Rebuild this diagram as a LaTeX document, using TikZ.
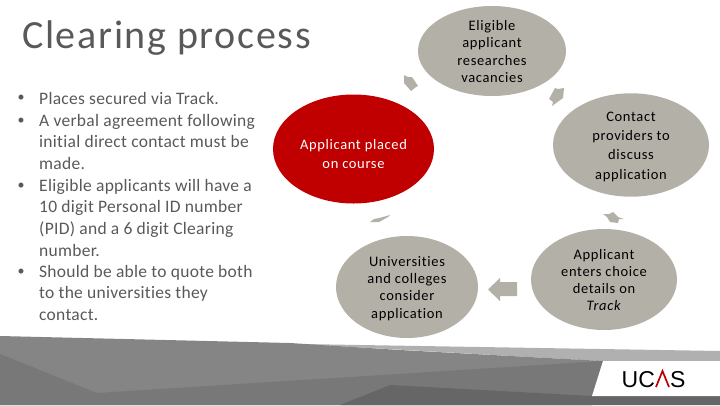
\documentclass[tikz,border=0pt]{standalone}
\usepackage{fontspec}
\setmainfont{Carlito}
\newfontfamily\titlefont[LetterSpace=4.2]{Carlito}
\newfontfamily\listfont[LetterSpace=1.6,Ligatures=NoCommon]{Carlito}
\newfontfamily\bubblefont[LetterSpace=4.5,Ligatures=NoCommon]{Carlito}
\newfontfamily\logofont{Liberation Sans}
\newcommand{\pushdown}[1]{\rule{0pt}{#1pt}}
\usetikzlibrary{shapes.geometric}
\definecolor{ucasgrey}{HTML}{B2B0A7}
\definecolor{ucasred}{HTML}{C00000}
\definecolor{bodygrey}{HTML}{595959}
\tikzset{
    bubble/.style={ellipse,fill=ucasgrey,inner sep=0pt,outer sep=0pt,align=center,text=black},
    listitem/.style={anchor=north west,inner sep=0pt,align=left,text=bodygrey,
        font=\listfont\fontsize{17.5}{21.6}\selectfont},
    listdot/.style={anchor=north west,inner sep=0pt,text=bodygrey,
        font=\fontsize{14}{21.6}\selectfont},
    ringarrow/.style={fill=ucasgrey,draw=none},
}
\begin{document}
\begin{tikzpicture}[x=1pt,y=-1pt]
    \useasboundingbox (0,0) rectangle (720,405);

    % Footer
    \fill[gray!62] (300,344) -- (720,351) -- (720,361) -- (600,361) -- cycle;
    \fill[black!48] (0,336) -- (290,343) -- (400,350) -- (603,361) -- (592,405) -- (0,405) -- cycle;
    \fill[black!53] (0,354) -- (97,393) -- (603,361) -- (592,405) -- (0,405) -- cycle;
    \fill[black!60] (340,405) -- (390,385) -- (592,396) -- (720,396) -- (720,405) -- cycle;
    \fill[white] (603,361) -- (720,361) -- (720,396) -- (592,396) -- cycle;

    % Logo
    \node[anchor=base west,inner sep=0pt,font=\logofont\fontsize{23}{23}\selectfont] (uc) at (621.5,387) {UC};
    \node[anchor=base west,inner sep=0pt,font=\logofont\fontsize{23}{23}\selectfont] (s) at (670,387) {S};
    \draw[ucasred,line width=1.7pt] (656,387) -- (662.5,371) -- (669,387);

    % Title and list
    \node[anchor=base west,inner sep=0pt,text=bodygrey,font=\titlefont\fontsize{40}{40}\selectfont] (title) at (22,48) {Clearing process};

    \node[listdot] (d1) at (17.5,95) {•};
    \node[listitem] (t1) at (39,92) {Places secured via Track.};
    \node[listdot] (d2) at (17.5,118) {•};
    \node[listitem] (t2) at (39,114) {A verbal agreement following\\initial direct contact must be\\made.};
    \node[listdot] (d3) at (17.5,183) {•};
    \node[listitem] (t3) at (39,179) {Eligible applicants will have a\\10 digit Personal ID number\\(PID) and a 6 digit Clearing\\number.};
    \node[listdot] (d4) at (17.5,269) {•};
    \node[listitem] (t4) at (39,265) {Should be able to quote both\\to the universities they\\contact.};

    % Ring
    \node[bubble,minimum width=148pt,minimum height=90pt,font=\bubblefont\fontsize{14.5}{17.4}\selectfont] (research) at (492,51) {\pushdown{11}Eligible\\applicant\\researches\\vacancies};
    \node[bubble,minimum width=156pt,minimum height=102pt,font=\bubblefont\fontsize{14.5}{19.4}\selectfont] (contact) at (631,145) {\pushdown{12.6}Contact\\providers to\\discuss\\application};
    \node[bubble,minimum width=146pt,minimum height=101pt,font=\bubblefont\fontsize{14.5}{17.2}\selectfont] (enters) at (604,279.5) {\pushdown{11}Applicant\\enters choice\\details on\\\textit{Track}};
    \node[bubble,minimum width=142pt,minimum height=102pt,font=\bubblefont\fontsize{14.5}{17.4}\selectfont] (consider) at (407,287) {\pushdown{12.6}Universities\\and colleges\\consider\\application};
    \node[bubble,fill=ucasred,text=white,minimum width=161pt,minimum height=109pt,font=\bubblefont\fontsize{14.5}{18.6}\selectfont] (placed) at (353.5,149) {\pushdown{19.6}Applicant placed\\on course};

    % Arrows
    \fill[ringarrow] (404,75) -- (408,77) -- (412,77) -- (418,86) -- (416,87) -- (411,91) -- (404,83) -- cycle;
    \fill[ringarrow] (555,88) -- (558,89) -- (564,88) -- (563,98) -- (552,106) -- (553,102) -- (549,99) -- cycle;
    \fill[ringarrow] (603,214) -- (609,214) -- (613,212) -- (618,217) -- (624,219) -- (619,219) -- (618,223) -- (610,222) -- (607,217) -- cycle;
    \fill[ringarrow] (488,289.5) -- (500,278) -- (500,282) -- (517,282) -- (517,296) -- (500,296) -- (500,301) -- cycle;
    \fill[ringarrow] (370,222) -- (374,219) -- (379,218) -- (383,217) -- (390,215) -- (388,217) -- (379,222) -- cycle;
\end{tikzpicture}
\end{document}
